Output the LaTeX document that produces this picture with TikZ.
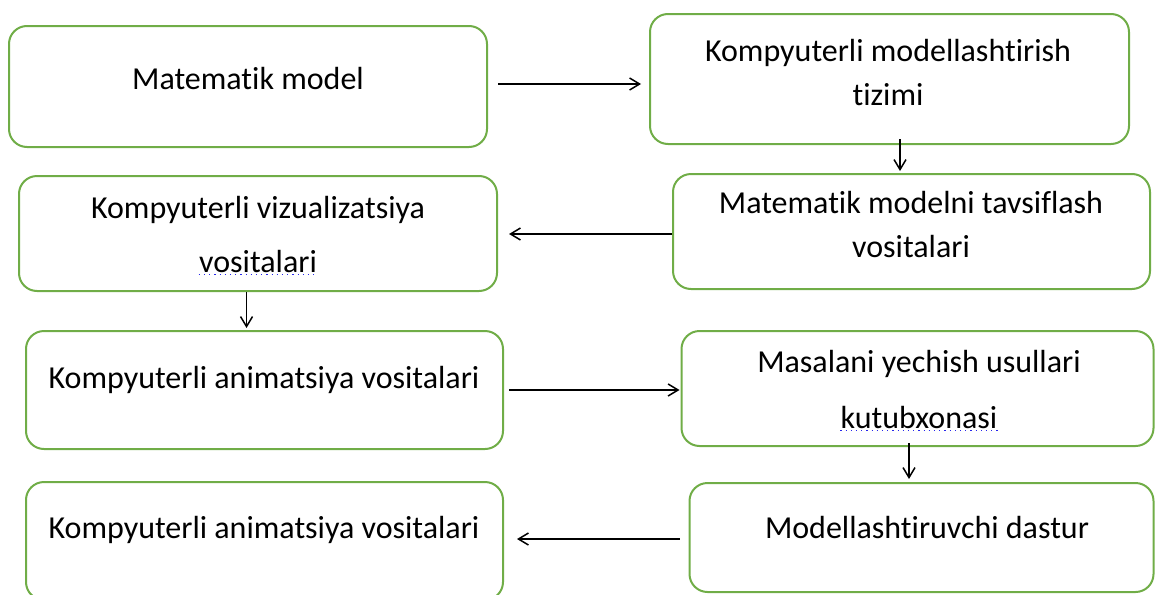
\documentclass[tikz,border=0pt]{standalone}
\usepackage{fontspec}
\setmainfont{Carlito}[Ligatures={NoCommon}]
\usepackage{tikz}
\usetikzlibrary{positioning, arrows.meta}
\definecolor{boxgreen}{RGB}{112,173,71}
\definecolor{spellblue}{RGB}{40,40,235}

\begin{document}
\begin{tikzpicture}[x=0.5pt, y=-0.5pt, >={Straight Barb[length=5pt, width=6pt]},
	stepbox/.style={draw=boxgreen, line width=1pt, rounded corners=9pt, inner sep=0pt},
	lbl/.style={inner sep=0pt, anchor=base, font=\fontsize{16}{19}\selectfont},
	spellmark/.style={draw=spellblue, line width=0.6pt, dotted}]
	
	\useasboundingbox (0,0) rectangle (1155,594);
	\clip (0,0) rectangle (1155,594);
	
	% Define boxes
	\node [stepbox, minimum width=239pt, minimum height=60.5pt] (box1) at (248,86.5) {};
	\node [stepbox, minimum width=239.5pt, minimum height=65pt] (box2) at (889.5,79) {};
	\node [stepbox, minimum width=239pt, minimum height=57.5pt] (box3) at (258,233.5) {};
	\node [stepbox, minimum width=238.5pt, minimum height=57.5pt] (box4) at (911.5,231.5) {};
	\node [stepbox, minimum width=238.5pt, minimum height=59pt] (box5) at (264.5,390) {};
	\node [stepbox, minimum width=236pt, minimum height=57.5pt] (box6) at (917.5,388.5) {};
	\node [stepbox, minimum width=238.5pt, minimum height=59pt] (box7) at (264.5,541) {};
	\node [stepbox, minimum width=232pt, minimum height=54.5pt] (box8) at (921.5,537.5) {};
	
	% Box texts
	\node [lbl] (t1) at (248,89) {Matematik model};
	\node [lbl] (t2a) at (888,61) {Kompyuterli modellashtirish};
	\node [lbl] (t2b) at (888,105) {tizimi};
	\node [lbl] (t3a) at (258,218) {Kompyuterli vizualizatsiya};
	\node [lbl] (t3b) at (258,272) {vositalari};
	\node [lbl] (t4a) at (911,213) {Matematik modelni tavsiflash};
	\node [lbl] (t4b) at (911,257) {vositalari};
	\node [lbl] (t5) at (264,388) {Kompyuterli animatsiya vositalari};
	\node [lbl] (t6a) at (919,372) {Masalani yechish usullari};
	\node [lbl] (t6b) at (919,428) {kutubxonasi};
	\node [lbl] (t7) at (264,538) {Kompyuterli animatsiya vositalari};
	\node [lbl] (t8) at (927,538) {Modellashtiruvchi dastur};
	
	% Spelling marks under two words
	\draw[spellmark] ([yshift=-1.2pt]t3b.base west) -- ([yshift=-1.2pt]t3b.base east);
	\draw[spellmark] ([yshift=-1.2pt]t6b.base west) -- ([yshift=-1.2pt]t6b.base east);
	
	% Arrows between boxes
	\draw[->, line width=0.75pt, shorten <=5pt, shorten >=4pt] ([yshift=1.25pt]box1.east) -- ([yshift=1.25pt]box1.east -| box2.west);
	\draw[->, line width=0.75pt, shorten <=-3pt, shorten >=1pt] ([xshift=5.25pt]box2.south) -- ([xshift=-5.75pt]box4.north);
	\draw[->, line width=0.75pt, shorten >=5.5pt] ([yshift=-1.25pt]box4.west) -- ([yshift=-1.25pt]box4.west -| box3.east);
	\draw[->, line width=0.75pt, shorten >=1pt] ([xshift=-5.75pt]box3.south) -- ([xshift=-9pt]box5.north);
	\draw[->, line width=0.75pt, shorten <=2.5pt, shorten >=0.5pt] (box5.east) -- (box5.east -| box6.west);
	\draw[->, line width=0.75pt, shorten <=-2pt, shorten >=1.5pt] ([xshift=-4.25pt]box6.south) -- ([xshift=-6.25pt]box8.north);
	\draw[->, line width=0.75pt, shorten <=4.5pt, shorten >=6.5pt] ([yshift=-0.75pt]box8.west) -- ([yshift=-0.75pt]box8.west -| box7.east);
\end{tikzpicture}
\end{document}
